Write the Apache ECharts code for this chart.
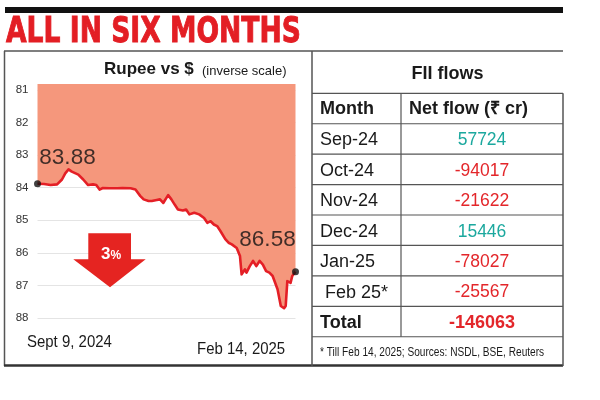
<!DOCTYPE html>
<html>
<head>
<meta charset="utf-8">
<script src="https://cdn.jsdelivr.net/npm/echarts/dist/echarts.min.js"></script>
<style>
html,body{margin:0;padding:0;background:#fff;}
#c{width:600px;height:400px;}
</style>
</head>
<body>
<div id="c"></div>
<script>
// ---- data ----
const dates = ['2024-09-09','2024-09-13','2024-09-17','2024-09-21','2024-09-24','2024-09-26','2024-09-28','2024-09-30','2024-10-01','2024-10-04',
 '2024-10-07','2024-10-10','2024-10-13','2024-10-15','2024-10-17','2024-10-19','2024-10-23','2024-10-28','2024-10-31',
 '2024-11-05','2024-11-08','2024-11-11','2024-11-13','2024-11-16','2024-11-18','2024-11-21','2024-11-23','2024-11-25','2024-11-28','2024-11-30',
 '2024-12-02','2024-12-04','2024-12-07','2024-12-09','2024-12-11','2024-12-14','2024-12-17','2024-12-20','2024-12-22','2024-12-24','2024-12-26','2024-12-28','2024-12-30',
 '2025-01-02','2025-01-04','2025-01-06','2025-01-09','2025-01-11','2025-01-12','2025-01-14','2025-01-15','2025-01-17','2025-01-19','2025-01-21','2025-01-23','2025-01-25','2025-01-27','2025-01-29','2025-01-31',
 '2025-02-03','2025-02-05','2025-02-07','2025-02-08','2025-02-09','2025-02-11','2025-02-12','2025-02-14'];
const rupee = [83.88,83.89,83.92,83.90,83.75,83.56,83.44,83.51,83.55,83.60,
 83.75,83.92,83.90,83.92,84.06,84.01,84.02,84.02,84.01,
 84.02,84.06,84.26,84.36,84.41,84.41,84.38,84.36,84.47,84.23,84.36,
 84.52,84.67,84.70,84.67,84.82,84.77,84.82,84.93,85.08,85.03,85.13,85.18,85.33,
 85.58,85.69,85.74,85.85,86.10,86.66,86.51,86.61,86.41,86.25,86.41,86.25,86.36,86.56,86.61,86.71,
 87.12,87.63,87.70,87.63,86.87,86.92,86.71,86.58];
const yTicks = [81,82,83,84,85,86,87,88];
const startLabel = 'Sept 9, 2024';
const endLabel = 'Feb 14, 2025';
const dropPct = '3';
const months = ['Sep-24','Oct-24','Nov-24','Dec-24','Jan-25',' Feb 25*'];
const flows = [57724,-94017,-21622,15446,-78027,-25567];
const totalFlow = -146063;
const footnote = '* Till Feb 14, 2025; Sources: NSDL, BSE, Reuters';

// ---- styles ----
const SANS = "'Liberation Sans',Arial,sans-serif";
const HEAVY = "'DejaVu Sans',sans-serif";
const RED = '#E3262A';
const TEAL = '#1BA89E';
const INK = '#1a1a1a';
const LINEC = '#555';

function txt(text, x, y, font, fill, align, sx) {
  return {type:'text', z:100, x:x, y:y, scaleX:sx||1,
    style:{text:text, x:0, y:0, font:font, fill:fill, textAlign:align||'left', textVerticalAlign:'middle'}};
}
function line(x1,y1,x2,y2,w,c){
  return {type:'line', z:90, shape:{x1:x1,y1:y1,x2:x2,y2:y2}, style:{stroke:c||LINEC, lineWidth:w||1}};
}

const graphics = [];
// top black bar and headline
graphics.push({type:'rect', z:90, shape:{x:5,y:7,width:558,height:6}, style:{fill:'#111'}});
graphics.push({type:'text', z:100, x:6, y:33, scaleX:0.76, style:{text:'ALL IN SIX MONTHS', x:0, y:0, font:"bold 35px "+HEAVY,
  fill:'#E31E24', stroke:'#E31E24', lineWidth:1, textAlign:'left', textVerticalAlign:'middle'}});
// panel box
graphics.push(line(4,51,563,51,1.5));
graphics.push(line(4.5,51,4.5,366,1.5));
graphics.push(line(4,365.5,563,365.5,2.5,'#333'));
graphics.push(line(312,51,312,366,1.5));
graphics.push(line(563,93.3,563,366,1.5));
// chart headings
graphics.push(txt('Rupee vs $', 104, 69, "bold 17px "+SANS, INK));
graphics.push(txt('(inverse scale)', 202, 71.5, "13px "+SANS, INK));
graphics.push(txt(startLabel, 27, 342.5, "17px "+SANS, INK, 'left', 0.88));
graphics.push(txt(endLabel, 197, 349, "17px "+SANS, INK, 'left', 0.88));
// drop arrow
graphics.push({type:'polygon', z:95, shape:{points:[[88.3,233.3],[131,233.3],[131,259.3],[145.7,259.3],[110,287.3],[73.3,259.3],[88.3,259.3]]},
  style:{fill:'#E52421'}});
graphics.push({type:'text', z:100, style:{text:'{a|'+dropPct+'}{b|%}', x:111, y:254, textAlign:'center', textVerticalAlign:'middle',
  rich:{a:{font:"bold 17px "+SANS, fill:'#fff'}, b:{font:"bold 12px "+SANS, fill:'#fff', padding:[3,0,0,0]}}}});

// table
const rowTop = 93.3, rowH = 30.43;
graphics.push(txt('FII flows', 447.5, 74, "bold 18px "+SANS, INK, 'center'));
for (let k=0;k<=8;k++) graphics.push(line(312, rowTop+k*rowH, 563, rowTop+k*rowH, 1.2));
graphics.push(line(401, rowTop, 401, rowTop+8*rowH, 1.2));
graphics.push(txt('Month', 320, rowTop+rowH/2+1, "bold 18px "+SANS, INK));
graphics.push(txt('Net flow (\u20B9 cr)', 409, rowTop+rowH/2+1, "bold 18px "+SANS, INK));
months.forEach(function(m,i){
  const cy = rowTop+(i+1)*rowH+rowH/2+1.5;
  graphics.push(txt(m, 320, cy, "18px "+SANS, INK));
  graphics.push(txt(String(flows[i]), 482, cy, "17.5px "+SANS, flows[i]>=0?TEAL:RED, 'center'));
});
graphics.push(txt('Total', 320, rowTop+7*rowH+rowH/2+1.5, "bold 18px "+SANS, INK));
graphics.push(txt(String(totalFlow), 482, rowTop+7*rowH+rowH/2+1.5, "bold 18px "+SANS, RED, 'center'));
graphics.push(txt(footnote, 320, 352.5, "12.5px "+SANS, INK, 'left', 0.81));

const chart = echarts.init(document.getElementById('c'), null, {renderer:'canvas'});
const n = dates.length;
chart.setOption({
  animation:false,
  backgroundColor:'#fff',
  grid:{left:37.5, right:304.5, top:84, bottom:82, containLabel:false},
  xAxis:{type:'time', min:dates[0], max:dates[n-1], show:true,
    axisLine:{show:false}, axisTick:{show:false}, axisLabel:{show:false}, splitLine:{show:false}},
  yAxis:{type:'value', inverse:true, min:80.82, max:88,
    axisLine:{show:false},
    axisTick:{show:false, customValues:yTicks},
    axisLabel:{customValues:yTicks, color:'#333', fontFamily:SANS, fontSize:11.5, margin:9},
    splitLine:{show:true, lineStyle:{color:'#e4e4e4', width:1}}},
  series:[
    {type:'line', data:dates.map(function(d,i){return [d,rupee[i]];}), symbol:'none', smooth:false,
     lineStyle:{color:'#E41F26', width:2.6, join:'round'},
     areaStyle:{color:'#F5977C', opacity:1, origin:'start'}, z:2},
    {type:'scatter', data:[[dates[0],rupee[0]],[dates[n-1],rupee[n-1]]], symbolSize:7,
     itemStyle:{color:'#111'}, z:5,
     label:{show:true, position:'inside', color:'#111', fontFamily:SANS, fontSize:22.5,
       formatter:function(p){return p.value[1].toFixed(2);}},
     labelLayout:function(p){ return p.dataIndex===0 ? {dx:30, dy:-25.5} : {dx:-28, dy:-32}; }}
  ],
  graphic:graphics
});
</script>
</body>
</html>
